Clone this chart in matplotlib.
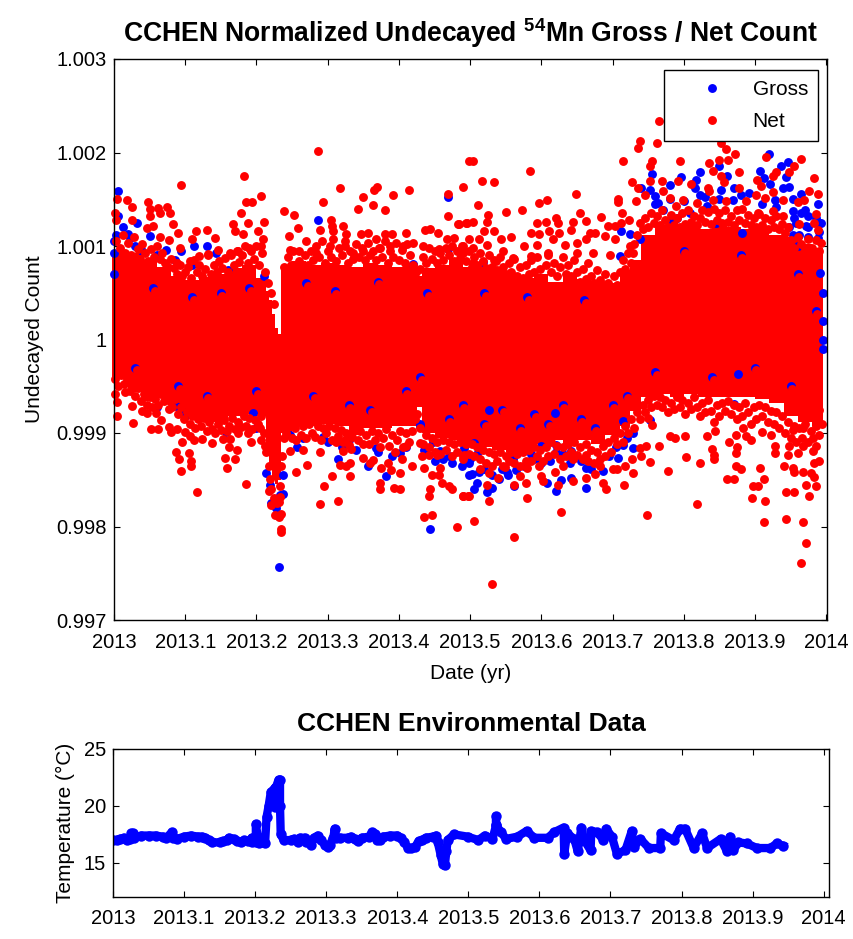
import numpy as np
import matplotlib
matplotlib.use("Agg")
import matplotlib.pyplot as plt

plt.rcParams['font.family'] = ['Liberation Sans', 'DejaVu Sans']
plt.rcParams['mathtext.fontset'] = 'custom'
plt.rcParams['mathtext.bf'] = 'Liberation Sans:bold'
plt.rcParams['mathtext.rm'] = 'Liberation Sans'

YEAR = 2013
# values below: (fraction of year, (count - 1) * 1000)
net_upper_left = [(.0935,1.65),(.183,1.754),(.287,2.02),(.317,1.615),(.369,1.633),(.365,1.597),(.414,1.597),(.391,1.544),(.35,1.526),(.343,1.40),(.363,1.44),(.381,1.387),(.469,1.561),(.49,1.633),(.499,1.914),(.004,1.508),(.018,1.49),(.025,1.42),(.048,1.47),(.062,1.405),(.05,1.40),(.074,1.42),(.078,1.35),(.064,1.35),(.05,1.32),(.002,1.35),(.025,1.28),(.003,1.28),(.185,1.47),(.194,1.47),(.207,1.54),(.179,1.35),(.167,1.23),(.188,1.244),(.211,1.26),(.202,1.16),(.239,1.37),(.253,1.333),(.259,1.19),(.294,1.47),(.305,1.28),(.306,1.21),(.322,1.21),(.308,1.16),(.289,1.176),(.083,1.23),(.09,1.14),(.055,1.21),(.046,1.194),(.115,1.16),(.13,1.176),(.109,1.07),(.142,1.087),(.17,1.16),(.181,1.123),(.064,1.094),(.077,1.062),(.092,.98),(.246,1.105),(.436,1.176),(.443,1.184),(.455,1.14),(.469,1.32),(.483,1.23),(.495,1.247),(.38,1.123),(.39,1.13),(.41,1.14),(.357,1.14),(.347,1.123),(.326,1.123),(.368,1.07),(.434,1.0),(.456,.973),(.467,1.07),(.478,1.087),(.49,.927),(.42,1.034),(.406,1.0),(.387,1.0),(.373,.98),(.35,.945),(.336,.927),(.324,1.0),(.303,1.0),(.284,.927),(.27,1.05),(.26,.945),(.247,.96),(.209,1.07),(.207,1.0),(.19,.98),(.174,.945),(.163,.927),(.146,.96),(.132,.91),(.12,.89),(.107,.84),(.089,.82)]
net_upper_mid = [(.504,1.914),(.517,1.70),(.534,1.686),(.584,1.807),(.649,1.561),(.511,1.437),(.55,1.365),(.573,1.387),(.596,1.455),(.608,1.49),(.714,1.914),(.708,1.508),(.707,1.47),(.713,1.35),(.684,1.315),(.654,1.35),(.663,1.266),(.645,1.262),(.621,1.298),(.624,1.248),(.606,1.262),(.594,1.244),(.525,1.33),(.523,1.262),(.504,1.262),(.494,1.244),(.485,1.23),(.723,1.28),(.712,1.248),(.703,1.212),(.693,1.212),(.641,1.173),(.557,1.094),(.52,1.158),(.534,1.158),(.544,1.07),(.499,1.07),(.512,1.07),(.523,1.016),(.504,.98),(.488,.998),(.586,1.14),(.597,1.123),(.611,1.158),(.625,1.14),(.65,1.034),(.675,1.14),(.668,1.14),(.663,1.07),(.69,1.105),(.704,1.07),(.633,1.016),(.616,1.07),(.594,1.016),(.575,.998),(.546,.945),(.537,.838),(.56,.873),(.585,.891),(.609,.927),(.65,.927),(.672,.927),(.696,.909),(.724,.998),(.729,.927),(.504,.82)]
net_upper_right = [(.765,2.335),(.739,2.128),(.736,2.05),(.762,2.10),(.852,2.10),(.859,2.04),(.85,1.925),(.862,1.925),(.872,1.98),(.915,1.95),(.794,1.914),(.755,1.914),(.753,1.86),(.836,1.89),(.841,1.807),(.877,1.79),(.852,1.747),(.857,1.686),(.965,1.93),(.955,1.86),(.948,1.79),(.929,1.79),(.925,1.754),(.903,1.704),(.908,1.647),(.983,1.722),(.752,1.70),(.769,1.70),(.727,1.686),(.792,1.70),(.81,1.668),(.834,1.615),(.836,1.587),(.878,1.615),(.771,1.587),(.735,1.615),(.78,1.515),(.746,1.544),(.901,1.544),(.914,1.515),(.925,1.58),(.976,1.587),(.988,1.561),(.939,1.497),(.96,1.472),(.969,1.49),(.887,1.48),(.859,1.48),(.799,1.49),(.819,1.455),(.841,1.497),(.789,1.426),(.733,1.48),(.985,1.337),(.962,1.23),(.988,1.176),(.983,1.248),(.904,1.355),(.925,1.372),(.939,1.32)]
net_top_edge = [(.003,1.05),(.008,.98),(.012,1.12),(.016,.93),(.02,1.03),(.024,.9),(.028,1.1),(.033,.97),(.036,.86),(.04,1.02),(.044,.92),(.048,.84),(.052,.97),(.056,.88),(.06,1.0),(.064,.86),(.068,.93),(.072,.82),(.076,.78),(.08,.86),(.084,.76),(.088,.70),(.092,.8),(.096,.68),(.1,.72),(.104,.78),(.108,.66),(.112,.85),(.116,.72),(.12,.8),(.124,.68),(.128,.75),(.132,.9),(.136,.7),(.14,.8),(.144,.72),(.148,.84),(.152,.76),(.156,.87),(.16,.72),(.164,.9),(.168,.8),(.172,.95),(.176,.83),(.18,.9),(.184,1.0),(.188,.82),(.192,.95),(.196,.86),(.2,1.0),(.204,.8),(.208,.92),(.212,.72),(.216,.6),(.22,.5),(.224,.38),(.238,.78),(.24,.66),(.244,.88),(.248,.8),(.252,.95),(.256,.72),(.26,.84),(.264,.76),(.268,.9),(.272,.8),(.276,.95),(.28,.85),(.284,1.0),(.288,.88),(.292,1.05),(.296,.82),(.3,.95),(.304,.88),(.308,1.07),(.312,.84),(.316,.98),(.32,.9),(.324,1.05),(.328,.82),(.332,.95),(.336,.86),(.34,1.02),(.344,.88),(.348,.98),(.352,.85),(.356,1.03),(.36,.9),(.364,.95),(.368,.85),(.372,.98),(.376,.88),(.38,1.05),(.384,.82),(.388,.95),(.392,.88),(.396,1.03),(.4,.85),(.404,.96),(.408,.82),(.412,1.02),(.416,.9),(.42,.8),(.424,.72),(.43,.75),(.434,.88),(.438,.82),(.442,.98),(.446,.86),(.45,.95),(.454,.82),(.458,.93),(.462,.85),(.466,.98),(.47,.9),(.474,1.0),(.478,.84),(.482,.95),(.486,.87),(.49,1.0),(.494,.84),(.498,.95),(.502,.78),(.506,.88),(.51,.8),(.514,.92),(.518,.84),(.522,.76),(.526,.9),(.53,.78),(.534,.85),(.538,.74),(.542,.88),(.546,.78),(.55,.7),(.554,.82),(.558,.72),(.562,.86),(.566,.68),(.57,.78),(.574,.66),(.578,.8),(.582,.7),(.586,.85),(.59,.72),(.594,.88),(.598,.75),(.602,.66),(.606,.8),(.61,.9),(.614,.72),(.618,.82),(.622,.68),(.626,.78),(.63,.88),(.634,.7),(.638,.8),(.642,.68),(.646,.85),(.65,.72),(.654,.62),(.658,.75),(.662,.65),(.666,.82),(.67,.68),(.674,.6),(.678,.74),(.682,.64),(.686,.58),(.69,.7),(.694,.6),(.698,.55),(.702,.68),(.706,.58),(.71,.72),(.714,.85),(.718,.75),(.722,.92),(.726,.82),(.73,1.02),(.734,1.12),(.738,1.25),(.742,1.18),(.746,1.3),(.75,1.2),(.754,1.35),(.758,1.25),(.762,1.32),(.766,1.22),(.77,1.38),(.774,1.28),(.778,1.2),(.782,1.33),(.786,1.22),(.79,1.3),(.794,1.2),(.798,1.35),(.802,1.24),(.806,1.38),(.81,1.26),(.814,1.32),(.818,1.22),(.822,1.3),(.826,1.38),(.83,1.26),(.834,1.36),(.838,1.24),(.842,1.4),(.846,1.28),(.85,1.35),(.854,1.25),(.858,1.38),(.862,1.26),(.866,1.32),(.87,1.22),(.874,1.38),(.878,1.28),(.882,1.4),(.886,1.25),(.89,1.33),(.894,1.22),(.898,1.3),(.902,1.2),(.906,1.34),(.91,1.22),(.914,1.3),(.918,1.18),(.922,1.28),(.926,1.2),(.93,1.32),(.934,1.18),(.938,1.24),(.942,1.14),(.946,1.2),(.95,1.06),(.955,.98),(.96,1.1),(.965,1.02),(.97,.96),(.975,1.08),(.98,.98),(.985,1.06),(.99,.95),(.993,1.03)]
net_lower_left = [(.004,-.813),(.004,-.67),(.001,-.58),(.015,-.563),(.027,-.898),(.025,-.706),(.039,-.76),(.046,-.79),(.059,-.79),(.066,-.866),(.052,-.952),(.062,-.952),(.077,-.74),(.077,-.934),(.08,-.987),(.089,-.952),(.099,-.987),(.107,-1.034),(.096,-1.094),(.112,-1.077),(.087,-1.198),(.091,-1.283),(.094,-1.408),(.105,-1.219),(.108,-1.30),(.108,-1.355),(.117,-1.636),(.124,-1.059),(.137,-1.112),(.153,-1.059),(.163,-1.059),(.174,-1.005),(.188,-1.005),(.193,-1.094),(.161,-1.148),(.172,-1.184),(.156,-1.269),(.158,-1.373),(.17,-1.283),(.186,-1.547),(.205,-.945),(.207,-1.07),(.212,-1.14),(.219,-1.497),(.218,-1.622),(.22,-1.772),(.226,-1.882),(.232,-1.90),(.235,-1.865),(.234,-2.025),(.234,-2.06),(.232,-1.74),(.233,-1.569),(.235,-1.348)]
net_lower_mid = [(.247,-1.194),(.256,-1.07),(.266,-1.184),(.271,-1.34),(.255,-1.412),(.289,-1.198),(.295,-1.569),(.289,-1.757),(.306,-1.462),(.315,-1.725),(.317,-1.337),(.326,-1.355),(.331,-1.326),(.331,-1.462),(.312,-1.094),(.325,-1.077),(.322,-1.194),(.333,-1.176),(.35,-1.269),(.364,-1.29),(.359,-1.326),(.373,-1.604),(.374,-1.54),(.375,-1.373),(.385,-1.32),(.393,-1.583),(.402,-1.597),(.402,-1.426),(.389,-1.397),(.404,-1.283),(.418,-1.355),(.435,-1.373),(.432,-1.248),(.442,-1.24),(.453,-1.24),(.446,-1.451),(.457,-1.373),(.456,-1.444),(.46,-1.533),(.443,-1.604),(.442,-1.676),(.435,-1.90),(.446,-1.879),(.481,-2.007),(.471,-1.569),(.474,-1.604),(.49,-1.676),(.497,-1.676),(.41,-1.14),(.429,-1.105),(.464,-1.0),(.49,-1.248)]
net_lower_right = [(.531,-2.62),(.562,-2.11),(.506,-1.936),(.628,-1.847),(.748,-1.882),(.819,-1.757),(.912,-1.954),(.944,-1.918),(.967,-1.954),(.972,-2.18),(.965,-2.392),(.914,-1.725),(.896,-1.69),(.58,-1.69),(.527,-1.725),(.499,-1.672),(.49,-1.672),(.944,-1.636),(.955,-1.636),(.976,-1.672),(.897,-1.569),(.904,-1.569),(.912,-1.497),(.861,-1.497),(.871,-1.497),(.88,-1.39),(.873,-1.355),(.907,-1.373),(.778,-1.408),(.822,-1.319),(.803,-1.255),(.753,-1.305),(.765,-1.144),(.78,-1.034),(.788,-1.055),(.801,-1.034),(.832,-1.034),(.844,-.98),(.864,-1.098),(.873,-1.023),(.843,-1.283),(.84,-1.176),(.843,-1.23),(.873,-1.212),(.875,-1.15),(.894,-1.08),(.887,-1.034),(.91,-.99),(.923,-1.023),(.928,-1.14),(.928,-1.212),(.94,-1.355),(.953,-1.373),(.955,-1.415),(.967,-1.415),(.979,-1.426),(.983,-1.472),(.986,-1.569),(.972,-1.551),(.983,-1.319),(.99,-1.30),(.946,-1.23),(.96,-1.212),(.948,-1.14),(.967,-1.14),(.986,-1.14),(.982,-1.19),(.99,-.749),(.953,-.963),(.967,-.945),(.883,-.945),(.749,-.838),(.755,-.916),(.747,-1.14),(.738,-1.159),(.716,-1.551),(.729,-1.426),(.717,-1.355),(.727,-1.283),(.74,-1.248),(.691,-1.604),(.686,-1.533),(.701,-1.39),(.706,-1.39),(.663,-1.48),(.675,-1.437),(.682,-1.355),(.663,-1.24),(.644,-1.515),(.644,-1.283),(.63,-1.348),(.619,-1.415),(.624,-1.551),(.6,-1.462),(.602,-1.515),(.578,-1.533),(.562,-1.551),(.57,-1.455),(.58,-1.373),(.549,-1.362),(.523,-1.551),(.539,-1.48),(.527,-1.426),(.514,-1.39),(.492,-1.24),(.597,-1.355)]
net_bottom_edge = [(.002,-.42),(.006,-.5),(.01,-.38),(.014,-.48),(.018,-.42),(.022,-.55),(.026,-.48),(.03,-.6),(.034,-.52),(.038,-.66),(.042,-.58),(.046,-.7),(.05,-.62),(.054,-.72),(.058,-.64),(.062,-.7),(.066,-.58),(.07,-.66),(.074,-.6),(.078,-.66),(.082,-.72),(.086,-.64),(.09,-.8),(.094,-.72),(.098,-.85),(.102,-.78),(.106,-.9),(.11,-.82),(.114,-.95),(.118,-.85),(.122,-.92),(.126,-.84),(.13,-.98),(.134,-.88),(.138,-.96),(.142,-1.0),(.146,-.9),(.15,-.97),(.154,-.86),(.158,-.98),(.162,-.92),(.166,-.84),(.17,-.96),(.174,-.88),(.178,-.94),(.182,-.82),(.186,-.92),(.19,-.84),(.194,-.96),(.198,-.86),(.202,-.9),(.206,-.82),(.21,-1.0),(.214,-1.2),(.217,-1.35),(.221,-1.6),(.225,-1.7),(.229,-1.75),(.233,-1.68),(.236,-1.25),(.238,-1.05),(.242,-1.0),(.246,-.92),(.25,-1.05),(.254,-.95),(.258,-.88),(.262,-1.02),(.266,-.92),(.27,-1.05),(.274,-.9),(.278,-1.0),(.282,-1.04),(.286,-.92),(.29,-1.08),(.294,-.95),(.298,-1.0),(.302,-.92),(.306,-1.08),(.31,-.95),(.314,-1.03),(.318,-.97),(.322,-1.1),(.326,-1.0),(.33,-1.13),(.334,-1.04),(.338,-.95),(.342,-1.08),(.346,-.98),(.35,-1.12),(.354,-1.02),(.358,-1.12),(.362,-.98),(.366,-1.08),(.37,-1.0),(.374,-1.15),(.378,-1.05),(.382,-.96),(.386,-1.14),(.39,-1.02),(.394,-1.2),(.398,-1.08),(.402,-.98),(.406,-1.15),(.41,-1.0),(.414,-1.1),(.418,-.98),(.422,-.85),(.426,-.8),(.43,-.95),(.434,-1.12),(.438,-1.02),(.442,-1.15),(.446,-1.05),(.45,-1.2),(.454,-1.1),(.458,-1.22),(.462,-1.08),(.466,-1.18),(.47,-1.1),(.474,-1.25),(.478,-1.12),(.482,-1.2),(.486,-1.1),(.49,-1.28),(.494,-1.12),(.498,-1.22),(.502,-1.12),(.506,-1.25),(.51,-1.15),(.514,-1.28),(.518,-1.18),(.522,-1.32),(.526,-1.2),(.53,-1.35),(.534,-1.22),(.538,-1.3),(.542,-1.2),(.546,-1.35),(.55,-1.25),(.554,-1.3),(.558,-1.2),(.562,-1.32),(.566,-1.22),(.57,-1.35),(.574,-1.2),(.578,-1.3),(.582,-1.18),(.586,-1.3),(.59,-1.15),(.594,-1.25),(.598,-1.18),(.602,-1.3),(.606,-1.15),(.61,-1.25),(.614,-1.1),(.618,-1.22),(.622,-1.14),(.626,-1.28),(.63,-1.15),(.634,-1.25),(.638,-1.12),(.642,-1.2),(.646,-1.1),(.65,-1.24),(.654,-1.15),(.658,-1.28),(.662,-1.12),(.666,-1.3),(.67,-1.18),(.674,-1.32),(.678,-1.2),(.682,-1.28),(.686,-1.14),(.69,-1.25),(.694,-1.1),(.698,-1.2),(.702,-1.05),(.706,-1.12),(.71,-1.0),(.714,-1.1),(.718,-.92),(.722,-1.0),(.726,-.85),(.73,-.95),(.734,-.78),(.738,-.85),(.742,-.7),(.746,-.78),(.75,-.65),(.754,-.72),(.758,-.6),(.762,-.7),(.766,-.62),(.77,-.72),(.774,-.65),(.778,-.78),(.782,-.68),(.786,-.74),(.79,-.62),(.794,-.72),(.798,-.65),(.802,-.8),(.806,-.68),(.81,-.74),(.814,-.62),(.818,-.72),(.822,-.82),(.826,-.68),(.83,-.78),(.834,-.65),(.838,-.76),(.842,-.88),(.846,-.7),(.85,-.82),(.854,-.68),(.858,-.76),(.862,-.66),(.866,-.8),(.87,-.7),(.874,-.85),(.878,-.72),(.882,-.82),(.886,-.68),(.89,-.78),(.894,-.9),(.898,-.72),(.902,-.85),(.906,-.7),(.91,-.82),(.914,-.72),(.918,-.88),(.922,-.76),(.926,-.9),(.93,-.78),(.934,-.95),(.938,-.82),(.942,-1.0),(.946,-.88),(.95,-1.05),(.954,-.92),(.958,-1.1),(.962,-.95),(.966,-1.05),(.97,-.9),(.974,-1.1),(.978,-.98),(.982,-1.05),(.986,-.92),(.99,-1.02),(.994,-.9)]
net_cover = [(.057,.52),(.112,.42),(.152,.47),(.192,.52),(.272,.57),(.312,.49),(.372,.59),(.442,.47),(.522,.47),(.582,.42),(.662,.39),(.802,.92),(.882,.87),(.962,.67),(.987,.27),(.032,-.33),(.092,-.53),(.132,-.63),(.202,-.58),(.282,-.63),(.332,-.73),(.362,-.78),(.412,-.58),(.432,-.43),(.472,-.88),(.492,-.73),(.522,-.93),(.547,-.78),(.572,-.98),(.592,-.83),(.612,-.93),(.632,-.73),(.657,-.88),(.677,-.98),(.702,-.73),(.722,-.63),(.762,-.38),(.842,-.43),(.902,-.33),(.952,-.53)]

gross_upper = [(.0056,1.583),(.0935,.945),(.05,1.105),(.032,1.25),(.022,1.087),(.0,1.05),(.0,.927),(.13,1.0),(.143,.927),(.42,.81),(.469,.963),(.113,1.0),(.073,.96),(.006,1.32),(.469,1.526),(.287,1.283),(.919,1.986),(.946,1.897),(.937,1.86),(.907,1.807),(.944,1.736),(.913,1.722),(.921,1.668),(.85,1.86),(.822,1.79),(.817,1.704),(.86,1.754),(.796,1.736),(.755,1.775),(.78,1.65),(.753,1.597),(.74,1.615),(.815,1.615),(.822,1.55),(.852,1.597),(.871,1.615),(.948,1.633),(.939,1.615),(.965,1.56),(.953,1.508),(.928,1.497),(.988,1.444),(.953,1.37),(.965,1.35),(.975,1.32),(.958,1.25),(.972,1.21),(.953,1.12),(.962,1.12),(.975,1.10),(.988,1.087),(.99,1.25),(.759,1.53),(.764,1.46),(.771,1.39),(.78,1.266),(.518,.827),(.712,1.158),(.725,1.123),(.71,.89),(.738,1.07),(.845,1.248),(.882,1.14),(.869,1.497),(.892,1.57),(.832,1.426),(.808,1.355),(.79,1.30),(.993,1.248),(.991,.713),(.76,1.45),(.78,1.5),(.8,1.48),(.83,1.52),(.85,1.5),(.88,1.55),(.91,1.45),(.93,1.42),(.955,1.3),(.97,1.38),(.985,1.3),(.99,1.15),(.96,1.0),(.975,1.2),(.948,1.2),(.995,.5),(.995,.2),(.995,-.1),(.995,.0),(.0,.7),(.003,1.12),(.012,1.2),(.02,1.13),(.03,1.0),(.04,.95),(.06,.9),(.085,.85),(.11,.8),(.16,.74),(.21,.68)]
gross_lower = [(.232,-2.428),(.214,-1.426),(.237,-1.444),(.219,-1.558),(.233,-1.658),(.221,-1.747),(.228,-1.80),(.237,-1.65),(.096,-.774),(.087,-.706),(.195,-.79),(.157,-.99),(.247,-1.02),(.257,-1.148),(.315,-1.283),(.357,-1.355),(.382,-1.462),(.443,-2.025),(.471,-1.248),(.499,-1.32),(.499,-1.444),(.401,-1.212),(.368,-1.16),(.457,-1.194),(.429,-.927),(.33,-1.07),(.293,-1.04),(.506,-1.597),(.509,-1.533),(.503,-1.437),(.523,-1.636),(.531,-1.586),(.553,-1.444),(.541,-1.497),(.562,-1.569),(.608,-1.533),(.621,-1.619),(.628,-1.504),(.642,-1.48),(.663,-1.583),(.663,-1.373),(.642,-1.194),(.6,-1.14),(.729,-1.159),(.715,-1.123),(.708,-1.266),(.686,-1.408),(.621,-1.123),(.492,-1.159),(.506,-1.105),(.752,-.856),(.876,-.374),(.871,-.695),(.715,-.873),(.527,-.749),(.619,-.784),(.435,-1.18),(.45,-1.3),(.462,-1.28),(.475,-1.32),(.488,-1.35),(.5,-1.28),(.513,-1.42),(.52,-1.38),(.53,-1.45),(.545,-1.38),(.552,-1.42),(.565,-1.4),(.575,-1.35),(.59,-1.28),(.6,-1.32),(.612,-1.3),(.63,-1.22),(.64,-1.32),(.655,-1.3),(.67,-1.38),(.68,-1.32),(.695,-1.25),(.705,-1.15),(.72,-1.05),(.728,-1.0),(.448,-1.1),(.51,-1.22),(.56,-1.28),(.585,-1.22),(.62,-1.2),(.06,-.72),(.1,-.82),(.2,-.95),(.265,-1.05),(.3,-1.1),(.32,-1.15),(.34,-1.18),(.37,-1.2),(.39,-1.25),(.41,-1.15),(.43,-.9)]
gross_specks = [(.055,.55),(.11,.45),(.15,.5),(.19,.55),(.27,.6),(.31,.52),(.37,.62),(.44,.5),(.52,.5),(.58,.45),(.66,.42),(.8,.95),(.88,.9),(.96,.7),(.985,.3),(.03,-.3),(.09,-.5),(.13,-.6),(.2,-.55),(.28,-.6),(.33,-.7),(.36,-.75),(.41,-.55),(.43,-.4),(.47,-.85),(.49,-.7),(.52,-.9),(.545,-.75),(.57,-.95),(.59,-.8),(.61,-.9),(.63,-.7),(.655,-.85),(.675,-.95),(.7,-.7),(.72,-.6),(.76,-.35),(.84,-.4),(.9,-.3),(.95,-.5)]

# saturated core of overlapping markers: edges and estimated upper/lower limits
core_edges = [-.003,.02,.04,.06,.08,.10,.12,.14,.16,.18,.20,.214,.218,.222,.226,.230,.234,.25,.27,.29,.31,.33,.35,.37,.39,.41,.425,.432,.45,.47,.49,.51,.53,.55,.57,.59,.61,.63,.65,.67,.69,.71,.725,.74,.76,.78,.80,.82,.84,.86,.88,.90,.92,.94,.96,.98,.996]
net_core_hi = [.95,.92,.85,.78,.68,.64,.67,.7,.76,.8,.66,.52,.42,.27,.12,.06,.76,.84,.8,.82,.8,.78,.82,.8,.78,.8,.68,.76,.8,.86,.78,.8,.75,.7,.66,.7,.62,.7,.65,.6,.6,.74,.85,1.12,1.22,1.2,1.25,1.18,1.22,1.2,1.18,1.2,1.12,1.1,1.02,.98]
net_core_lo = [-.42,-.56,-.66,-.62,-.72,-.82,-.88,-.88,-.82,-.8,-.82,-1.15,-1.4,-1.5,-1.55,-1.5,-1.0,-.93,-.93,-.9,-.93,-1.02,-.95,-.95,-.92,-.93,-.72,-1.0,-1.05,-1.08,-1.1,-1.15,-1.18,-1.2,-1.18,-1.12,-1.08,-1.12,-1.08,-1.12,-1.02,-.92,-.76,-.62,-.58,-.62,-.58,-.62,-.62,-.62,-.62,-.64,-.68,-.82,-.88,-.92]

temp_x = [0,.005,.01,.015,.02,.024,.026,.028,.03,.04,.05,.06,.07,.075,.083,.085,.09,.1,.11,.12,.125,.13,.135,.14,.15,.155,.16,.163,.17,.175,.18,.185,.19,.195,.195,.201,.201,.205,.214,.216,.219,.222,.228,.228,.229,.233,.235,.235,.236,.24,.25,.255,.26,.263,.27,.272,.278,.283,.288,.292,.298,.302,.305,.31,.312,.314,.32,.33,.335,.34,.345,.35,.36,.365,.368,.372,.376,.38,.39,.4,.405,.41,.415,.42,.425,.43,.435,.44,.45,.455,.457,.461,.464,.467,.469,.471,.48,.499,.514,.523,.534,.539,.539,.539,.546,.553,.569,.582,.593,.612,.621,.634,.635,.639,.649,.654,.659,.663,.672,.673,.681,.69,.694,.702,.709,.721,.73,.733,.742,.754,.77,.771,.789,.798,.805,.817,.829,.836,.855,.864,.868,.873,.88,.892,.906,.925,.934,.943]
temp_y = [17.0,17.0,17.1,17.2,17.0,17.1,17.6,17.6,17.2,17.4,17.4,17.4,17.3,17.2,17.7,17.2,17.1,17.3,17.4,17.3,17.3,17.2,17.0,16.8,16.8,16.9,17.0,17.2,17.1,16.9,16.8,17.0,16.9,16.8,17.2,16.8,18.4,16.7,16.7,19.0,20.0,21.2,21.6,19.9,21.6,22.3,22.3,20.0,17.5,17.0,17.0,17.1,16.8,17.2,17.2,16.8,16.6,17.2,17.4,17.0,16.6,16.4,16.6,17.2,18.0,17.2,17.2,17.2,17.3,17.1,16.9,17.2,17.3,17.7,17.5,17.0,17.0,17.3,17.4,17.4,17.2,16.8,16.3,16.3,16.4,16.9,17.0,17.2,17.3,17.4,16.8,15.7,14.9,14.8,16.0,17.0,17.5,17.3,17.0,17.4,17.1,18.3,19.1,18.3,17.7,17.1,17.3,17.8,17.2,17.2,17.7,18.1,15.8,17.6,17.1,16.0,18.1,17.0,16.1,17.8,17.7,17.0,18.0,17.3,15.8,16.1,17.8,16.4,17.1,16.3,16.3,17.6,17.0,18.0,18.0,16.3,17.6,16.3,17.1,16.0,17.3,16.1,16.8,16.7,16.3,16.3,16.7,16.5]

x_ticks = [2013.0,2013.1,2013.2,2013.3,2013.4,2013.5,2013.6,2013.7,2013.8,2013.9,2014.0]
x_labels = ['2013','2013.1','2013.2','2013.3','2013.4','2013.5','2013.6','2013.7','2013.8','2013.9','2014']
count_ticks = [.997,.998,.999,1.0,1.001,1.002,1.003]
count_labels = ['0.997','0.998','0.999','1','1.001','1.002','1.003']
temp_ticks = [15,20,25]

W, H = 854, 939
fig = plt.figure(figsize=(W/100, H/100), dpi=100)
ax = fig.add_axes([114/W, 1-620/H, 713/W, 561/H])
ax2 = fig.add_axes([113/W, 1-897/H, 716/W, 148/H])

def pts(*groups):
    a = np.array([p for g in groups for p in g])
    return YEAR + a[:, 0], 1 + a[:, 1]/1000

MS = 6.4
gx, gy = pts(gross_upper, gross_lower, gross_specks)
nx, ny = pts(net_upper_left, net_upper_mid, net_upper_right, net_top_edge,
             net_lower_left, net_lower_mid, net_lower_right, net_bottom_edge, net_cover)

ax.stairs(1+np.array(net_core_hi)/1000, YEAR+np.array(core_edges), baseline=1+np.array(net_core_lo)/1000,
          fill=True, color='#ff0000', clip_on=False, zorder=2.5)
ax.plot(gx, gy, 'o', color='#0000ff', ms=MS, mew=0, clip_on=False, zorder=3, label='Gross')
ax.plot(nx, ny, 'o', color='#ff0000', ms=MS, mew=0, clip_on=False, zorder=4, label='Net')

ax.set_xlim(2013, 2014.001)
ax.set_ylim(.997, 1.003)
ax.set_xticks(x_ticks, x_labels)
ax.set_yticks(count_ticks, count_labels)
ax.set_xlabel('Date (yr)', fontsize=15, labelpad=9)
ax.set_ylabel('Undecayed Count', fontsize=15, labelpad=9)
ax.set_title(r'CCHEN Normalized Undecayed $\mathbf{^{54}}$Mn Gross / Net Count', fontsize=19.1, fontweight='bold', pad=12)

handles, labels = ax.get_legend_handles_labels()
leg = ax.legend(handles, labels, loc='upper left', bbox_to_anchor=((664-114)/713, (620-70)/561), borderaxespad=0,
                fontsize=15, fancybox=False, framealpha=1, edgecolor='black', handletextpad=.19,
                borderpad=.5, labelspacing=.6, handlelength=3.56, markerscale=1)
leg.get_frame().set_linewidth(1)
leg.set_zorder(10)

ax2.plot(YEAR+np.array(temp_x), temp_y, '-o', color='#0000ff', lw=6, ms=7.5, mew=0, zorder=3)
ax2.set_xlim(2013, 2014.0075)
ax2.set_ylim(12, 25)
ax2.set_xticks(x_ticks, x_labels)
ax2.set_yticks(temp_ticks)
ax2.set_ylabel('Temperature (°C)', fontsize=15, labelpad=6)
ax2.set_title('CCHEN Environmental Data', fontsize=19, fontweight='bold', pad=13)

for a in (ax, ax2):
    a.tick_params(axis='both', direction='in', top=True, right=True, length=4.5, width=.8,
                  labelsize=14.5, pad=5)
    a.tick_params(axis='x', pad=9)
    for s in a.spines.values():
        s.set_linewidth(1)
        s.set_zorder(20)

fig.savefig('out.png', dpi=100)
